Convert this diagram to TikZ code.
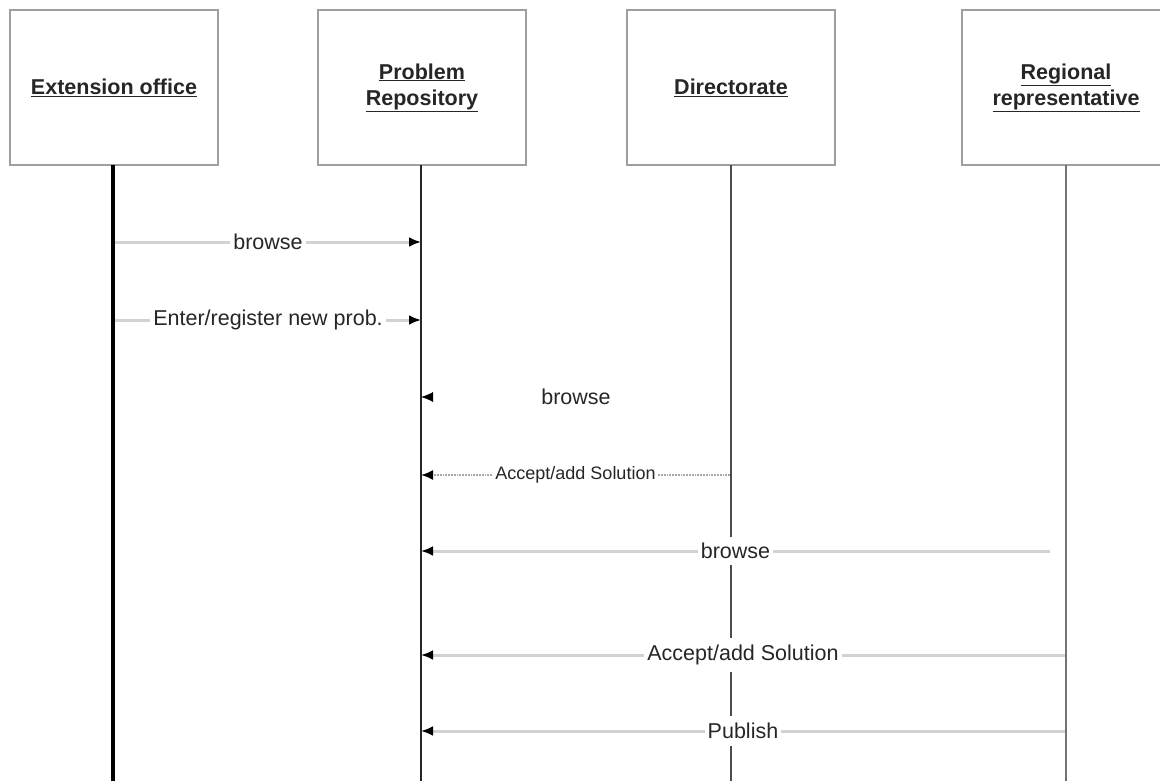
\documentclass[tikz,border=0pt]{standalone}
\usepackage{fontspec}
\setmainfont{Liberation Sans}
\usetikzlibrary{arrows.meta}
\begin{document}
\begin{tikzpicture}[x=1pt,y=-1pt,
  actor/.style={draw=gray!75, line width=1.3pt, fill=white, minimum width=208pt, minimum height=155pt,
    align=center, inner sep=0pt, font=\fontsize{21.5}{25}\selectfont\bfseries, text=black!85},
  life/.style={line width=2pt, draw=black!85},
  tip/.style={-{Latex[length=12pt,width=10pt,color=black]}},
  msg/.style={tip, draw=gray!35, line width=3pt},
  lbl/.style={fill=white, inner sep=3pt, font=\fontsize{21.5}{24}\selectfont, text=black!85}
]
\useasboundingbox (0,0) rectangle (1160,781);
\clip (0,0) rectangle (1160,781);
% actors
\node[actor] (ext) at (114,87.5) {\underline{Extension office}};
\node[actor] (rep) at (422,87.5) {\underline{Problem}\\[1pt]\underline{Repository}};
\node[actor] (dir) at (731,87.5) {\underline{Directorate}};
\node[actor] (reg) at (1066,87.5) {\underline{Regional}\\[1pt]\underline{representative}};
% lifeline ends
\coordinate (extE) at (113,781);
\coordinate (repE) at (421,781);
\coordinate (dirE) at (731,781);
\coordinate (regE) at (1066,781);
\draw[life, line width=3.2pt, black] (113,165) -- (extE);
\draw[life] (421,165) -- (repE);
\draw[life, line width=1.6pt, draw=black!70] (731,165) -- (dirE);
\draw[life, line width=2.2pt, draw=black!55] (1066,165) -- (regE);
% message end points
\coordinate (m1s) at (115,242); \coordinate (m1e) at (421,242);
\coordinate (m2s) at (115,320); \coordinate (m2e) at (421,320);
\coordinate (m3s) at (731,397); \coordinate (m3e) at (421,397); \coordinate (m3t) at (440,397);
\coordinate (m4s) at (730,475); \coordinate (m4e) at (421,475);
\coordinate (m5s) at (1050,551); \coordinate (m5e) at (421,551);
\coordinate (m6s) at (1065,655); \coordinate (m6e) at (421,655);
\coordinate (m7s) at (1065,731); \coordinate (m7e) at (421,731);
% messages
\draw[msg] (m1s) -- node[lbl] {browse} (m1e);
\draw[msg] (m2s) -- node[lbl] {Enter/register new prob.} (m2e);
\path (m3s) -- node[font=\fontsize{21.5}{24}\selectfont, text=black!85] {browse} (m3e);
\draw[tip, draw=white, line width=1pt] (m3t) -- (m3e);
\draw[tip, draw=gray!70, densely dotted, line width=1.8pt] (m4s) -- node[lbl, inner sep=2pt, font=\fontsize{18}{20}\selectfont] {Accept/add Solution} (m4e);
\draw[msg] (m5s) -- node[lbl, inner ysep=6pt] {browse} (m5e);
\draw[msg] (m6s) -- node[lbl, inner ysep=7pt] {Accept/add Solution} (m6e);
\draw[msg] (m7s) -- node[lbl, inner ysep=7pt] {Publish} (m7e);
\end{tikzpicture}
\end{document}
